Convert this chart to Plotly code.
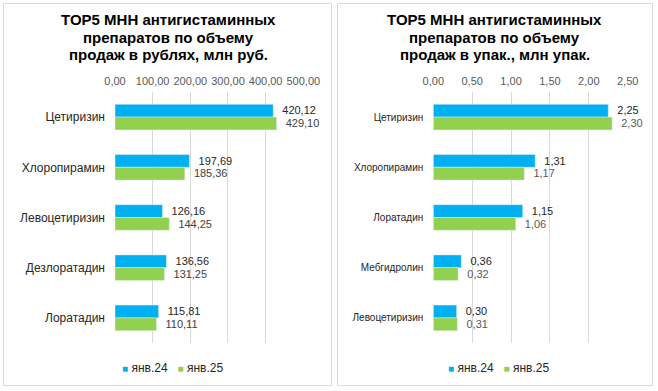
import plotly.graph_objects as go

# ---- data ----
rub_categories = ["Цетиризин", "Хлоропирамин", "Левоцетиризин", "Дезлоратадин", "Лоратадин"]
rub_jan24 = [420.12, 197.69, 126.16, 136.56, 115.81]
rub_jan25 = [429.10, 185.36, 144.25, 131.25, 110.11]

pack_categories = ["Цетиризин", "Хлоропирамин", "Лоратадин", "Мебгидролин", "Левоцетиризин"]
pack_jan24 = [2.25, 1.31, 1.15, 0.36, 0.30]
pack_jan25 = [2.30, 1.17, 1.06, 0.32, 0.31]

series_names = ["янв.24", "янв.25"]
rub_ticks = [0, 100, 200, 300, 400, 500]
pack_ticks = [0, 0.5, 1.0, 1.5, 2.0, 2.5]

title_left = ["TOP5 МНН антигистаминных", "препаратов по объему", "продаж в рублях, млн руб."]
title_right = ["TOP5 МНН антигистаминных", "препаратов по объему", "продаж в упак., млн упак."]

BLUE = "#00B0F0"
GREEN = "#92D050"
FONT = "Arial, Liberation Sans, sans-serif"
W, H = 658, 391


def fmt(v):
    return "\u00a0\u00a0" + f"{v:.2f}".replace(".", ",")


def px(x):
    return x / W


def py(y):
    return 1 - y / H


fig = go.Figure()

# left panel bars
for name, vals, col, tcol in [(series_names[0], rub_jan24, BLUE, "#262626"),
                              (series_names[1], rub_jan25, GREEN, "#404040")]:
    fig.add_trace(go.Bar(
        y=rub_categories, x=vals, orientation="h", name=name,
        marker_color=col, text=[fmt(v) for v in vals], textposition="outside",
        textfont=dict(size=12, color=tcol, family=FONT), cliponaxis=False,
        xaxis="x", yaxis="y", showlegend=False))

# right panel bars
for name, vals, col, tcol in [(series_names[0], pack_jan24, BLUE, "#262626"),
                              (series_names[1], pack_jan25, GREEN, "#595959")]:
    fig.add_trace(go.Bar(
        y=pack_categories, x=vals, orientation="h", name=name,
        marker_color=col, text=[fmt(v) for v in vals], textposition="outside",
        textfont=dict(size=12, color=tcol, family=FONT), cliponaxis=False,
        xaxis="x2", yaxis="y2", showlegend=False))

ydom = [py(343), py(92)]
axis_common = dict(showgrid=True, gridcolor="#D9D9D9", gridwidth=1, zeroline=False,
                   showline=False, side="top", tickformat=".2f",
                   tickfont=dict(size=11, color="#595959", family=FONT),
                   ticks="", fixedrange=True, automargin=False, ticklabelstandoff=4)
yaxis_common = dict(domain=ydom, autorange="reversed", showgrid=False, zeroline=False,
                    ticks="", ticklabelstandoff=9, automargin=False, fixedrange=True)

fig.update_layout(
    width=W, height=H,
    margin=dict(l=0, r=0, t=0, b=0, autoexpand=False),
    paper_bgcolor="white", plot_bgcolor="white",
    separators=", ",
    barmode="group", bargap=0.49, bargroupgap=0,
    showlegend=False,
    font=dict(family=FONT, color="#262626"),
    xaxis=dict(domain=[px(115), px(303.3)], range=[0, 500], tickvals=rub_ticks,
               anchor="y", **axis_common),
    yaxis=dict(anchor="x", tickfont=dict(size=12, color="#262626", family=FONT),
               **yaxis_common),
    xaxis2=dict(domain=[px(433.3), px(627.7)], range=[0, 2.5], tickvals=pack_ticks,
                anchor="y2", **axis_common),
    yaxis2=dict(anchor="x2", tickfont=dict(size=10, color="#262626", family=FONT),
                **yaxis_common),
)

# panel borders
fig.add_shape(type="rect", xref="paper", yref="paper", x0=px(3.5), x1=px(331.5),
              y0=py(385.5), y1=py(3.5), line=dict(color="#D9D9D9", width=1))
fig.add_shape(type="rect", xref="paper", yref="paper", x0=px(337.5), x1=px(652.5),
              y0=py(385.5), y1=py(3.5), line=dict(color="#D9D9D9", width=1))

# titles
for lines, cx in [(title_left, 168), (title_right, 495)]:
    for i, line in enumerate(lines):
        fig.add_annotation(text=f"<b>{line}</b>", xref="paper", yref="paper",
                           x=px(cx), y=py(20 + 17.5 * i), xanchor="center", yanchor="middle",
                           showarrow=False, font=dict(size=15, color="black", family=FONT))

# legends (compact, Excel-like)
legend_text = (f"<span style='color:{BLUE};font-size:10px'>■</span>\u00a0{series_names[0]}"
               f"\u00a0\u00a0\u00a0<span style='color:{GREEN};font-size:10px'>■</span>\u00a0{series_names[1]}")
for cx in [172, 498]:
    fig.add_annotation(text=legend_text, xref="paper", yref="paper",
                       x=px(cx), y=py(368), xanchor="center", yanchor="middle",
                       showarrow=False, font=dict(size=12, color="#262626", family=FONT))

fig.write_html("out.html", config={"displayModeBar": False},
               post_script="document.body.style.margin='0';document.body.style.padding='0';")
